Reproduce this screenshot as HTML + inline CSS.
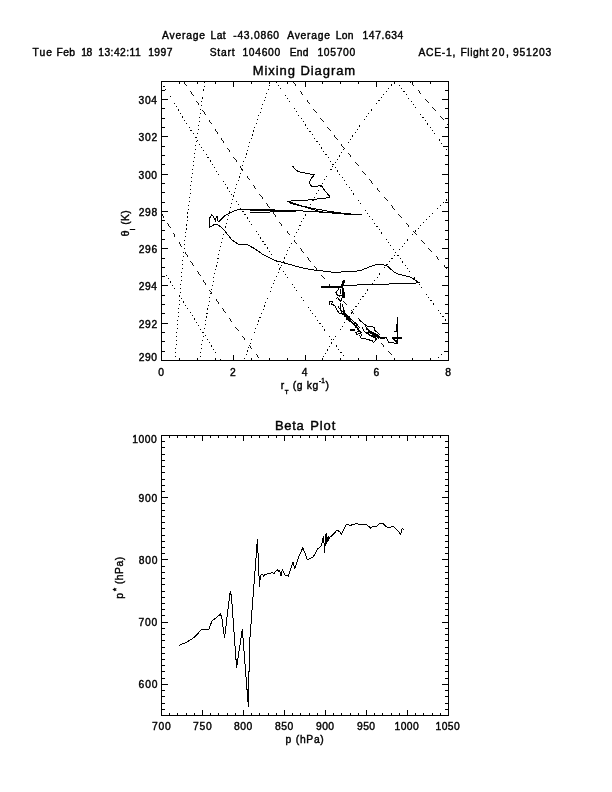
<!DOCTYPE html>
<html><head><meta charset="utf-8"><title>Mixing Diagram</title>
<style>
html,body{margin:0;padding:0;background:#fff;}
body{width:612px;height:792px;overflow:hidden;}
svg{display:block;will-change:transform;}
text{font-family:"Liberation Sans",sans-serif;fill:#000;stroke:#000;stroke-width:0.4px;}
</style></head><body>
<svg width="612" height="792" viewBox="0 0 612 792">
<defs><clipPath id="c1"><rect x="161.5" y="81.5" width="287.0" height="279.0"/></clipPath></defs>
<rect width="612" height="792" fill="#fff"/>
<path d="M161,81h288v1h-288zM161,360h288v1h-288zM161,81h1v280h-1zM448,81h1v280h-1zM179,358h1v3h-1zM179,81h1v3h-1zM197,358h1v3h-1zM197,81h1v3h-1zM215,358h1v3h-1zM215,81h1v3h-1zM233,355h1v6h-1zM233,81h1v6h-1zM251,358h1v3h-1zM251,81h1v3h-1zM269,358h1v3h-1zM269,81h1v3h-1zM287,358h1v3h-1zM287,81h1v3h-1zM305,355h1v6h-1zM305,81h1v6h-1zM322,358h1v3h-1zM322,81h1v3h-1zM340,358h1v3h-1zM340,81h1v3h-1zM358,358h1v3h-1zM358,81h1v3h-1zM376,355h1v6h-1zM376,81h1v6h-1zM394,358h1v3h-1zM394,81h1v3h-1zM412,358h1v3h-1zM412,81h1v3h-1zM430,358h1v3h-1zM430,81h1v3h-1zM161,351h4v1h-4zM445,351h4v1h-4zM161,341h4v1h-4zM445,341h4v1h-4zM161,332h4v1h-4zM445,332h4v1h-4zM161,323h7v1h-7zM442,323h7v1h-7zM161,313h4v1h-4zM445,313h4v1h-4zM161,304h4v1h-4zM445,304h4v1h-4zM161,295h4v1h-4zM445,295h4v1h-4zM161,285h7v1h-7zM442,285h7v1h-7zM161,276h4v1h-4zM445,276h4v1h-4zM161,267h4v1h-4zM445,267h4v1h-4zM161,258h4v1h-4zM445,258h4v1h-4zM161,248h7v1h-7zM442,248h7v1h-7zM161,239h4v1h-4zM445,239h4v1h-4zM161,230h4v1h-4zM445,230h4v1h-4zM161,220h4v1h-4zM445,220h4v1h-4zM161,211h7v1h-7zM442,211h7v1h-7zM161,202h4v1h-4zM445,202h4v1h-4zM161,192h4v1h-4zM445,192h4v1h-4zM161,183h4v1h-4zM445,183h4v1h-4zM161,174h7v1h-7zM442,174h7v1h-7zM161,164h4v1h-4zM445,164h4v1h-4zM161,155h4v1h-4zM445,155h4v1h-4zM161,146h4v1h-4zM445,146h4v1h-4zM161,136h7v1h-7zM442,136h7v1h-7zM161,127h4v1h-4zM445,127h4v1h-4zM161,118h4v1h-4zM445,118h4v1h-4zM161,108h4v1h-4zM445,108h4v1h-4zM161,99h7v1h-7zM442,99h7v1h-7zM161,90h4v1h-4zM445,90h4v1h-4zM161,435h288v1h-288zM161,715h288v1h-288zM161,435h1v281h-1zM448,435h1v281h-1zM169,713h1v3h-1zM169,435h1v3h-1zM177,713h1v3h-1zM177,435h1v3h-1zM186,713h1v3h-1zM186,435h1v3h-1zM194,713h1v3h-1zM194,435h1v3h-1zM202,710h1v6h-1zM202,435h1v6h-1zM210,713h1v3h-1zM210,435h1v3h-1zM218,713h1v3h-1zM218,435h1v3h-1zM227,713h1v3h-1zM227,435h1v3h-1zM235,713h1v3h-1zM235,435h1v3h-1zM243,710h1v6h-1zM243,435h1v6h-1zM251,713h1v3h-1zM251,435h1v3h-1zM259,713h1v3h-1zM259,435h1v3h-1zM268,713h1v3h-1zM268,435h1v3h-1zM276,713h1v3h-1zM276,435h1v3h-1zM284,710h1v6h-1zM284,435h1v6h-1zM292,713h1v3h-1zM292,435h1v3h-1zM300,713h1v3h-1zM300,435h1v3h-1zM309,713h1v3h-1zM309,435h1v3h-1zM317,713h1v3h-1zM317,435h1v3h-1zM325,710h1v6h-1zM325,435h1v6h-1zM333,713h1v3h-1zM333,435h1v3h-1zM341,713h1v3h-1zM341,435h1v3h-1zM350,713h1v3h-1zM350,435h1v3h-1zM358,713h1v3h-1zM358,435h1v3h-1zM366,710h1v6h-1zM366,435h1v6h-1zM374,713h1v3h-1zM374,435h1v3h-1zM382,713h1v3h-1zM382,435h1v3h-1zM391,713h1v3h-1zM391,435h1v3h-1zM399,713h1v3h-1zM399,435h1v3h-1zM407,710h1v6h-1zM407,435h1v6h-1zM415,713h1v3h-1zM415,435h1v3h-1zM423,713h1v3h-1zM423,435h1v3h-1zM432,713h1v3h-1zM432,435h1v3h-1zM440,713h1v3h-1zM440,435h1v3h-1zM161,709h4v1h-4zM445,709h4v1h-4zM161,703h4v1h-4zM445,703h4v1h-4zM161,696h4v1h-4zM445,696h4v1h-4zM161,690h4v1h-4zM445,690h4v1h-4zM161,684h7v1h-7zM442,684h7v1h-7zM161,678h4v1h-4zM445,678h4v1h-4zM161,671h4v1h-4zM445,671h4v1h-4zM161,665h4v1h-4zM445,665h4v1h-4zM161,659h4v1h-4zM445,659h4v1h-4zM161,653h4v1h-4zM445,653h4v1h-4zM161,647h4v1h-4zM445,647h4v1h-4zM161,640h4v1h-4zM445,640h4v1h-4zM161,634h4v1h-4zM445,634h4v1h-4zM161,628h4v1h-4zM445,628h4v1h-4zM161,622h7v1h-7zM442,622h7v1h-7zM161,615h4v1h-4zM445,615h4v1h-4zM161,609h4v1h-4zM445,609h4v1h-4zM161,603h4v1h-4zM445,603h4v1h-4zM161,597h4v1h-4zM445,597h4v1h-4zM161,591h4v1h-4zM445,591h4v1h-4zM161,584h4v1h-4zM445,584h4v1h-4zM161,578h4v1h-4zM445,578h4v1h-4zM161,572h4v1h-4zM445,572h4v1h-4zM161,566h4v1h-4zM445,566h4v1h-4zM161,559h7v1h-7zM442,559h7v1h-7zM161,553h4v1h-4zM445,553h4v1h-4zM161,547h4v1h-4zM445,547h4v1h-4zM161,541h4v1h-4zM445,541h4v1h-4zM161,535h4v1h-4zM445,535h4v1h-4zM161,528h4v1h-4zM445,528h4v1h-4zM161,522h4v1h-4zM445,522h4v1h-4zM161,516h4v1h-4zM445,516h4v1h-4zM161,510h4v1h-4zM445,510h4v1h-4zM161,503h4v1h-4zM445,503h4v1h-4zM161,497h7v1h-7zM442,497h7v1h-7zM161,491h4v1h-4zM445,491h4v1h-4zM161,485h4v1h-4zM445,485h4v1h-4zM161,479h4v1h-4zM445,479h4v1h-4zM161,472h4v1h-4zM445,472h4v1h-4zM161,466h4v1h-4zM445,466h4v1h-4zM161,460h4v1h-4zM445,460h4v1h-4zM161,454h4v1h-4zM445,454h4v1h-4zM161,447h4v1h-4zM445,447h4v1h-4zM161,441h4v1h-4zM445,441h4v1h-4z" fill="#000" stroke="none" shape-rendering="crispEdges"/>
<g clip-path="url(#c1)" fill="none" stroke="#000" stroke-width="1" shape-rendering="crispEdges">
<path d="M161.5,82.4 L166.2,90.1 L171.0,98.0 L175.7,105.7 L180.5,113.5 L185.2,121.1 L190.0,128.8 L194.7,136.3 L199.5,144.0 L204.3,151.6 L209.0,159.0 L213.8,166.5 L218.5,173.9 L223.3,181.3 L228.0,188.6 L232.8,196.0 L237.6,203.3 L242.3,210.5 L247.1,217.8 L251.8,224.8 L256.6,232.0 L261.3,239.1 L266.1,246.2 L270.8,253.1 L275.6,260.1 L280.4,267.1 L285.1,274.0 L289.9,280.9 L294.6,287.7 L299.4,294.5 L304.1,301.2 L308.9,308.0 L313.7,314.7 L318.4,321.3 L323.2,327.9 L327.9,334.4 L332.7,341.0 L337.4,347.4 L342.2,354.0 L347.0,360.4" stroke-dasharray="1.1 2.9" stroke-width="1"/>
<path d="M161.5,268.1 L163.0,270.4 L164.5,272.8 L166.1,275.1 L167.6,277.4 L169.1,279.8 L170.6,282.1 L172.2,284.5 L173.7,286.8 L175.2,289.2 L176.7,291.5 L178.2,293.9 L179.7,296.3 L181.3,298.6 L182.8,301.0 L184.3,303.3 L185.8,305.7 L187.3,308.0 L188.8,310.4 L190.4,312.8 L191.9,315.1 L193.4,317.5 L194.9,319.9 L196.5,322.3 L198.0,324.6 L199.5,327.0 L201.0,329.4 L202.5,331.7 L204.0,334.2 L205.6,336.5 L207.1,338.9 L208.6,341.3 L210.1,343.7 L211.6,346.1 L213.1,348.4 L214.7,350.9 L216.2,353.2 L217.7,355.7 L219.2,358.0 L220.8,360.5" stroke-dasharray="1.1 2.9" stroke-width="1"/>
<path d="M204.9,81.6 L203.8,88.7 L202.8,95.8 L201.7,103.0 L200.7,110.1 L199.7,117.2 L198.7,124.5 L197.8,131.6 L196.8,138.7 L195.9,145.9 L195.0,153.0 L194.1,160.1 L193.2,167.4 L192.3,174.5 L191.4,181.6 L190.6,188.8 L189.8,195.9 L189.0,203.0 L188.2,210.3 L187.4,217.4 L186.6,224.5 L185.9,231.7 L185.1,238.8 L184.4,245.9 L183.7,253.2 L183.0,260.3 L182.4,267.4 L181.7,274.6 L181.1,281.7 L180.5,288.8 L179.8,296.1 L179.3,303.2 L178.7,310.3 L178.1,317.5 L177.6,324.6 L177.0,331.7 L176.5,339.0 L176.0,346.1 L175.5,353.2 L175.1,360.4" stroke-dasharray="1.1 2.9" stroke-width="1"/>
<path d="M271.3,81.6 L268.7,88.7 L266.0,95.8 L263.4,103.0 L260.9,110.1 L258.4,117.2 L255.9,124.5 L253.5,131.6 L251.1,138.7 L248.8,145.9 L246.5,153.0 L244.3,160.1 L242.1,167.4 L239.9,174.5 L237.8,181.6 L235.7,188.8 L233.7,195.9 L231.8,203.0 L229.8,210.3 L228.0,217.4 L226.1,224.5 L224.3,231.7 L222.6,238.8 L220.9,245.9 L219.2,253.2 L217.6,260.3 L216.1,267.4 L214.5,274.6 L213.0,281.7 L211.6,288.8 L210.2,296.1 L208.9,303.2 L207.6,310.3 L206.3,317.5 L205.1,324.6 L204.0,331.7 L202.8,339.0 L201.7,346.1 L200.7,353.2 L199.7,360.4" stroke-dasharray="1.1 2.9" stroke-width="1"/>
<path d="M394.3,81.6 L388.4,88.7 L382.6,95.8 L376.9,103.0 L371.4,110.1 L366.1,117.2 L360.8,124.5 L355.8,131.6 L350.9,138.7 L346.0,145.9 L341.3,153.0 L336.8,160.1 L332.3,167.4 L328.0,174.5 L323.8,181.6 L319.6,188.8 L315.6,195.9 L311.7,203.0 L307.8,210.3 L304.1,217.4 L300.5,224.5 L296.9,231.7 L293.5,238.8 L290.1,245.9 L286.8,253.2 L283.6,260.3 L280.5,267.4 L277.3,274.6 L274.3,281.7 L271.4,288.8 L268.4,296.1 L265.6,303.2 L262.8,310.3 L260.0,317.5 L257.3,324.6 L254.6,331.7 L251.9,339.0 L249.3,346.1 L246.8,353.2 L244.2,360.4" stroke-dasharray="1.1 2.9" stroke-width="1"/>
<path d="M396.7,81.5 L398.0,83.3 L399.3,85.1 L400.7,87.0 L402.0,88.8 L403.3,90.6 L404.6,92.4 L406.0,94.2 L407.3,96.1 L408.6,97.9 L410.0,99.7 L411.3,101.5 L412.6,103.3 L413.9,105.2 L415.3,107.0 L416.6,108.8 L417.9,110.6 L419.2,112.4 L420.6,114.3 L421.9,116.1 L423.2,117.9 L424.6,119.7 L425.9,121.6 L427.2,123.4 L428.5,125.2 L429.9,127.0 L431.2,128.8 L432.5,130.7 L433.9,132.5 L435.2,134.3 L436.5,136.1 L437.8,137.9 L439.2,139.8 L440.5,141.6 L441.8,143.4 L443.2,145.2 L444.5,147.1 L445.8,148.9 L447.1,150.7 L448.5,152.5" stroke-dasharray="1.1 2.9" stroke-width="1"/>
<path d="M275.9,81.6 L280.3,88.0 L284.8,94.6 L289.2,101.1 L293.6,107.5 L298.0,114.0 L302.5,120.5 L306.8,126.8 L311.3,133.3 L315.7,139.7 L320.1,146.0 L324.6,152.4 L329.0,158.8 L333.4,165.0 L337.8,171.4 L342.3,177.7 L346.6,183.9 L351.1,190.2 L355.5,196.5 L359.9,202.6 L364.4,208.9 L368.8,215.1 L373.2,221.2 L377.6,227.4 L382.1,233.6 L386.4,239.6 L390.9,245.8 L395.3,251.9 L399.7,257.9 L404.2,264.0 L408.6,270.1 L413.0,276.1 L417.4,282.1 L421.9,288.1 L426.2,294.0 L430.7,300.0 L435.2,306.0 L439.5,311.9 L444.0,317.8 L448.4,323.8" stroke-dasharray="1.1 2.9" stroke-width="1"/>
<path d="M320.8,360.5 L324.0,355.3 L327.3,350.0 L330.6,344.8 L333.8,339.6 L337.1,334.5 L340.4,329.5 L343.7,324.5 L346.9,319.6 L350.2,314.7 L353.5,310.0 L356.8,305.2 L360.0,300.6 L363.3,296.0 L366.6,291.4 L369.9,287.0 L373.1,282.6 L376.4,278.2 L379.7,273.9 L383.0,269.7 L386.2,265.6 L389.5,261.5 L392.7,257.5 L396.0,253.5 L399.3,249.6 L402.6,245.7 L405.8,241.9 L409.1,238.2 L412.4,234.5 L415.7,230.9 L419.0,227.4 L422.2,223.9 L425.5,220.5 L428.8,217.1 L432.1,213.8 L435.3,210.6 L438.6,207.4 L441.9,204.3 L445.2,201.2 L448.4,198.2" stroke-dasharray="1.1 2.9" stroke-width="1"/>
<path d="M435.4,360.5 L435.7,360.2 L436.0,359.8 L436.4,359.5 L436.7,359.2 L437.0,358.9 L437.4,358.5 L437.7,358.2 L438.1,357.9 L438.4,357.6 L438.7,357.3 L439.1,356.9 L439.4,356.6 L439.7,356.3 L440.1,355.9 L440.4,355.6 L440.8,355.3 L441.1,355.0 L441.4,354.6 L441.8,354.3 L442.1,354.0 L442.4,353.7 L442.8,353.4 L443.1,353.0 L443.4,352.7 L443.8,352.4 L444.1,352.0 L444.5,351.7 L444.8,351.4 L445.1,351.1 L445.5,350.8 L445.8,350.4 L446.1,350.1 L446.5,349.8 L446.8,349.4 L447.1,349.1 L447.5,348.8 L447.8,348.5 L448.2,348.1 L448.5,347.8" stroke-dasharray="1.1 2.9" stroke-width="1"/>
<path d="M184.2,81.5 L189.6,90.0 L195.1,98.6 L200.5,107.1 L205.9,115.4 L211.3,123.8 L216.8,132.0 L222.3,140.2 L227.6,148.2 L233.1,156.2 L238.5,164.2 L243.9,171.9 L249.3,179.7 L254.8,187.4 L260.3,195.0 L265.6,202.4 L271.1,209.9 L276.5,217.3 L281.9,224.5 L287.3,231.7 L292.8,238.9 L298.3,246.0 L303.6,252.8 L309.1,259.7 L314.5,266.6 L319.9,273.2 L325.3,279.9 L330.8,286.5 L336.3,293.0 L341.6,299.3 L347.1,305.7 L352.5,312.0 L357.9,318.0 L363.3,324.2 L368.8,330.2 L374.3,336.2 L379.6,341.9 L385.1,347.7 L390.5,353.4 L396.0,359.1" stroke-dasharray="5.5 5.8" stroke-width="0.92"/>
<path d="M161.5,213.2 L164.0,217.5 L166.6,221.8 L169.1,226.0 L171.7,230.3 L174.2,234.5 L176.8,238.7 L179.4,242.9 L181.9,247.0 L184.5,251.2 L187.0,255.2 L189.6,259.3 L192.1,263.3 L194.7,267.3 L197.2,271.2 L199.8,275.1 L202.3,279.1 L204.9,283.0 L207.4,286.7 L210.0,290.6 L212.5,294.3 L215.1,298.1 L217.6,301.8 L220.2,305.5 L222.8,309.2 L225.3,312.8 L227.9,316.4 L230.4,319.9 L233.0,323.5 L235.5,327.0 L238.1,330.5 L240.6,333.9 L243.1,337.3 L245.7,340.7 L248.3,344.1 L250.8,347.4 L253.4,350.7 L255.9,354.0 L258.5,357.2 L261.1,360.5" stroke-dasharray="5.5 5.8" stroke-width="0.92"/>
<path d="M292.9,81.6 L296.8,86.9 L300.9,92.2 L304.8,97.5 L308.8,102.8 L312.8,108.0 L316.8,113.2 L320.8,118.4 L324.8,123.6 L328.7,128.6 L332.8,133.8 L336.7,138.8 L340.7,143.9 L344.7,148.9 L348.7,153.9 L352.7,158.8 L356.7,163.8 L360.6,168.7 L364.7,173.6 L368.6,178.4 L372.6,183.3 L376.6,188.0 L380.6,192.9 L384.6,197.6 L388.6,202.3 L392.5,207.0 L396.6,211.7 L400.5,216.3 L404.5,220.9 L408.5,225.5 L412.5,230.1 L416.4,234.5 L420.5,239.1 L424.4,243.5 L428.4,248.0 L432.4,252.4 L436.4,256.8 L440.4,261.1 L444.4,265.5 L448.4,269.9" stroke-dasharray="5.5 5.8" stroke-width="0.92"/>
<path d="M410.4,81.5 L411.4,82.6 L412.3,83.8 L413.3,84.9 L414.3,86.0 L415.3,87.2 L416.2,88.3 L417.2,89.4 L418.2,90.6 L419.2,91.7 L420.2,92.9 L421.1,94.0 L422.1,95.1 L423.1,96.3 L424.0,97.4 L425.0,98.5 L426.0,99.7 L427.0,100.8 L428.0,101.9 L428.9,103.0 L429.9,104.2 L430.9,105.3 L431.9,106.5 L432.8,107.6 L433.8,108.7 L434.8,109.9 L435.8,111.0 L436.8,112.1 L437.7,113.3 L438.7,114.4 L439.7,115.5 L440.7,116.7 L441.6,117.8 L442.6,118.9 L443.6,120.1 L444.6,121.2 L445.5,122.3 L446.5,123.5 L447.5,124.6 L448.5,125.8" stroke-dasharray="5.5 5.8" stroke-width="0.92"/>
<path d="M292.5,166.0 L295.4,169.7 L298.0,171.4 L302.0,172.4 L314.3,174.9 L310.1,180.0 L309.5,183.7 L311.6,186.2 L313.5,186.6 L321.5,185.6 L325.6,191.8 L329.8,196.2 L329.3,197.6 L309.4,199.9 L287.6,201.2 L291.0,203.5 L305.8,207.2 L319.7,211.6 L338.8,213.8 L361.5,214.7 L340.0,213.3 L312.5,211.6 L296.0,210.6 L260.0,210.2 L240.2,209.2 L234.3,210.7 L228.4,213.6 L224.5,216.1 L219.1,221.5 L217.6,221.0 L217.5,216.1 L216.2,216.6 L215.7,221.5 L213.7,217.1 L211.8,214.6 L209.3,218.5 L209.3,227.4 L214.7,224.4 L217.6,224.4 L223.5,229.3 L231.8,239.7 L238.3,244.3 L246.5,244.3 L254.7,248.7 L262.5,254.2 L275.0,260.4 L291.7,265.0 L302.0,267.8 L312.5,269.8 L333.3,272.3 L351.0,271.6 L360.4,270.6 L370.8,266.3 L376.0,264.6 L381.3,264.2 L387.5,266.3 L394.1,272.0 L398.0,274.0 L410.4,277.0 L418.6,282.3 L415.7,283.1 L399.5,283.7 L362.0,284.8 L344.9,285.5 L341.0,286.3" stroke-width="1"/>
<path d="M250.0,210.4 L296.0,210.6" stroke-width="2"/>
<path d="M250.0,213.0 L262.0,212.6 L275.0,211.6" stroke-width="1"/>
<path d="M287.5,201.2 L300.0,205.5 L312.5,208.3 L330.0,211.5 L350.0,214.2" stroke-width="1"/>
<path d="M321.4,286.8 L341.6,286.8" stroke-width="2"/>
<path d="M344.2,280.2 L342.8,284.0 L341.8,287.8" stroke-width="2.4"/>
<path d="M343.0,287.8 L343.3,293.0 L343.6,298.2" stroke-width="2.6"/>
<path d="M339.3,287.8 L336.7,291.7 L336.4,294.6 L337.7,295.6 L341.6,295.3" stroke-width="1"/>
<path d="M336.0,298.4 L337.7,297.6 L340.6,301.5 L342.3,297.6" stroke-width="1"/>
<path d="M340.0,288.5 L340.4,294.5" stroke-width="1"/>
<path d="M329.2,305.4 L329.8,301.8 L332.5,301.2 L331.8,304.1 L335.1,306.0 L337.0,310.0 L339.3,313.6 L343.6,313.9 L345.5,316.0" stroke-width="1"/>
<path d="M341.0,303.5 L340.3,308.7 L341.6,312.6 L343.5,315.0" stroke-width="1"/>
<path d="M342.6,303.5 L343.2,308.7 L344.9,312.6" stroke-width="1"/>
<path d="M343.8,313.0 L345.6,316.2" stroke-width="2.4"/>
<path d="M343.2,313.2 L344.5,314.5 L347.8,319.0 L351.0,321.7 L355.0,325.6 L359.0,330.2 L361.5,333.5" stroke-width="1.5"/>
<path d="M338.0,306.5 L341.5,310.8 L345.5,313.2 L349.6,318.2 L352.8,320.6 L356.8,324.4 L360.4,328.4" stroke-width="1"/>
<path d="M346.5,316.8 L350.5,320.8" stroke-width="3"/>
<path d="M350.0,330.2 L355.2,330.2" stroke-width="2"/>
<path d="M355.0,327.0 L358.0,327.6 L358.8,331.6 L355.6,332.4 L356.6,334.4 L360.4,333.0 L361.8,335.6" stroke-width="1"/>
<path d="M352.4,323.0 L355.8,323.4 L357.4,326.2" stroke-width="1"/>
<path d="M359.6,335.4 L360.9,338.0 L367.4,339.3 L372.6,341.3 L373.6,342.6 L375.4,340.2 L376.5,339.4" stroke-width="1"/>
<path d="M359.0,319.4 L362.8,323.0 L367.4,326.3 L374.0,327.2 L374.9,330.6 L377.2,332.0 L379.8,334.8" stroke-width="1"/>
<path d="M362.2,327.6 L364.1,331.5 L369.4,334.8 L374.6,336.7" stroke-width="1"/>
<path d="M366.0,326.6 L366.6,329.0 L369.0,330.4" stroke-width="1"/>
<path d="M368.0,331.2 L373.0,333.4 L379.8,337.6" stroke-width="3"/>
<path d="M368.0,334.0 L372.0,336.4 L377.0,338.6" stroke-width="1.6"/>
<path d="M368.0,339.4 L372.6,340.7" stroke-width="1"/>
<path d="M379.8,338.4 L385.3,338.4" stroke-width="2"/>
<path d="M385.3,338.4 L386.0,337.1 L388.3,342.0 L393.5,342.4 L394.1,343.3 L397.4,343.3 L397.7,339.4" stroke-width="1"/>
<path d="M397.4,317.2 L397.6,343.0" stroke-width="1"/>
<path d="M396.9,324.0 L397.2,332.0" stroke-width="2"/>
<path d="M394.1,331.2 L396.8,331.2" stroke-width="1"/>
<path d="M392.2,337.8 L402.0,337.8" stroke-width="2"/>
<path d="M393.4,338.6 L396.2,342.0 L398.0,338.6" stroke-width="1.6"/>
</g>
<path d="M178.6,645.5 L185.9,642.5 L192.7,638.6 L197.3,634.1 L201.8,629.3 L208.6,630.0 L212.0,620.9 L216.6,617.5 L220.5,614.1 L221.8,617.5 L224.5,638.0 L230.2,591.4 L231.4,595.9 L236.6,667.5 L242.3,629.3 L248.4,707.3 L249.5,643.6 L257.4,539.3 L259.5,587.0 L260.4,575.5 L262.3,574.3 L263.6,575.9 L265.3,574.4 L269.6,573.4 L272.0,572.9 L274.3,573.2 L277.2,569.6 L278.5,571.0 L279.8,570.6 L280.9,576.2 L282.4,569.6 L284.6,574.7 L288.2,576.2 L292.9,562.2 L294.9,568.8 L298.5,557.1 L302.9,547.5 L307.4,560.0 L313.2,557.1 L317.6,549.0 L321.3,546.0 L323.5,535.7 L324.7,552.6 L325.4,534.5 L325.9,546.0 L326.5,533.5 L327.2,541.6 L328.2,536.5 L328.8,539.5 L330.1,537.2 L333.8,533.7 L336.8,530.3 L339.7,531.5 L341.5,534.4 L346.3,524.4 L350.7,525.3 L356.6,523.4 L360.3,524.9 L366.2,524.1 L370.6,528.2 L372.1,526.8 L376.5,526.3 L378.7,524.1 L383.1,523.4 L386.0,526.8 L389.7,527.4 L393.4,526.3 L398.5,531.2 L400.7,534.4 L402.2,528.5 L403.7,529.3" fill="none" stroke="#000" stroke-width="1" shape-rendering="crispEdges"/>
<g font-size="10.3">
<text x="162.1" y="39.0" textLength="42.86" lengthAdjust="spacing">Average</text>
<text x="210.6" y="39.0" textLength="14.94" lengthAdjust="spacing">Lat</text>
<text x="233.21" y="39.0" textLength="45.87" lengthAdjust="spacing">-43.0860</text>
<text x="287.2" y="39.0" textLength="42.86" lengthAdjust="spacing">Average</text>
<text x="335.7" y="39.0" textLength="17.78" lengthAdjust="spacing">Lon</text>
<text x="362.46" y="39.0" textLength="40.89" lengthAdjust="spacing">147.634</text>
<text x="32.6" y="55.8" textLength="19.36" lengthAdjust="spacing">Tue</text>
<text x="56.5" y="55.8" textLength="18.51" lengthAdjust="spacing">Feb</text>
<text x="81.16" y="55.8" textLength="11.17" lengthAdjust="spacing">18</text>
<text x="98.26" y="55.8" textLength="42.38" lengthAdjust="spacing">13:42:11</text>
<text x="148.16" y="55.8" textLength="24.27" lengthAdjust="spacing">1997</text>
<text x="209.71" y="55.8" textLength="24.92" lengthAdjust="spacing">Start</text>
<text x="242.46" y="55.8" textLength="37.68" lengthAdjust="spacing">104600</text>
<text x="289.7" y="55.8" textLength="18.89" lengthAdjust="spacing">End</text>
<text x="317.46" y="55.8" textLength="37.68" lengthAdjust="spacing">105700</text>
<text x="418.5" y="55.8" textLength="36.84" lengthAdjust="spacing">ACE-1,</text>
<text x="460.5" y="55.8" textLength="28.02" lengthAdjust="spacing">Flight</text>
<text x="491.65" y="55.8" textLength="17.1" lengthAdjust="spacing">20,</text>
<text x="513.11" y="55.8" textLength="38.02" lengthAdjust="spacing">951203</text>
<text x="252.7" y="75.0" font-size="13.0" textLength="102.51" lengthAdjust="spacing">Mixing Diagram</text>
<text x="275.0" y="429.6" font-size="13.0" textLength="28.67" lengthAdjust="spacing">Beta</text>
<text x="310.3" y="429.6" font-size="13.0" textLength="24.99" lengthAdjust="spacing">Plot</text>
<text x="158.17" y="375.7">0</text>
<text x="229.94" y="375.7">2</text>
<text x="301.67" y="375.7">4</text>
<text x="373.39" y="375.7">6</text>
<text x="445.17" y="375.7">8</text>
<text x="138.65" y="360.8" textLength="18.39" lengthAdjust="spacing">290</text>
<text x="138.65" y="327.5" textLength="18.54" lengthAdjust="spacing">292</text>
<text x="138.65" y="290.3" textLength="18.27" lengthAdjust="spacing">294</text>
<text x="138.65" y="253.0" textLength="18.49" lengthAdjust="spacing">296</text>
<text x="138.65" y="215.7" textLength="18.5" lengthAdjust="spacing">298</text>
<text x="138.52" y="178.5" textLength="18.47" lengthAdjust="spacing">300</text>
<text x="138.52" y="141.2" textLength="18.73" lengthAdjust="spacing">302</text>
<text x="138.52" y="103.9" textLength="18.58" lengthAdjust="spacing">304</text>
<text x="151.92" y="729.7" textLength="18.74" lengthAdjust="spacing">700</text>
<text x="192.92" y="729.7" textLength="18.74" lengthAdjust="spacing">750</text>
<text x="233.95" y="729.7" textLength="18.25" lengthAdjust="spacing">800</text>
<text x="274.95" y="729.7" textLength="18.25" lengthAdjust="spacing">850</text>
<text x="315.91" y="729.7" textLength="18.17" lengthAdjust="spacing">900</text>
<text x="356.91" y="729.7" textLength="18.17" lengthAdjust="spacing">950</text>
<text x="394.56" y="729.7" textLength="24.2" lengthAdjust="spacing">1000</text>
<text x="435.56" y="729.7" textLength="24.2" lengthAdjust="spacing">1050</text>
<text x="138.59" y="688.4" textLength="18.81" lengthAdjust="spacing">600</text>
<text x="138.62" y="626.2" textLength="18.67" lengthAdjust="spacing">700</text>
<text x="138.65" y="563.9" textLength="18.8" lengthAdjust="spacing">800</text>
<text x="138.61" y="501.7" textLength="18.72" lengthAdjust="spacing">900</text>
<text x="132.36" y="443.0" textLength="24.44" lengthAdjust="spacing">1000</text>
<text x="280.64" y="388.6">r</text>
<text x="284.76" y="393.5" font-size="6.2">T</text>
<text x="292.77" y="388.6" textLength="25.49" lengthAdjust="spacing">(g kg</text>
<text x="319.1" y="383.0" font-size="6.4" textLength="5.74" lengthAdjust="spacing">-1</text>
<text x="325.59" y="388.6">)</text>
<text x="285.49" y="742.7">p</text>
<text x="295.77" y="742.7" textLength="28.01" lengthAdjust="spacing">(hPa)</text>
<text transform="translate(129.2,235.8) rotate(-90)" x="-0.47" y="0">&#952;</text>
<text transform="translate(134.9,230.0) rotate(-90)" x="-0.19" y="0" font-size="6.6">l</text>
<text transform="translate(129.2,224.5) rotate(-90)" x="-0.33" y="0" textLength="14.45" lengthAdjust="spacing">(K)</text>
<text transform="translate(123.0,597.9) rotate(-90)" x="-0.76" y="0">p</text>
<text transform="translate(118.8,591.0) rotate(-90)" x="-0.22" y="0" font-size="9">*</text>
<text transform="translate(123.0,584.0) rotate(-90)" x="-0.33" y="0" textLength="27.63" lengthAdjust="spacing">(hPa)</text>
</g>
</svg>
</body></html>
